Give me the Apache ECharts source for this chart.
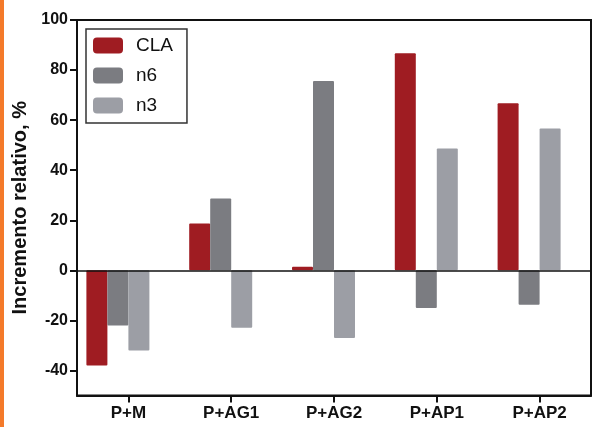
<!DOCTYPE html>
<html>
<head>
<meta charset="utf-8">
<script src="https://cdn.jsdelivr.net/npm/echarts@6/dist/echarts.min.js"></script>
<style>
html,body{margin:0;padding:0;background:#fff;}
#c{width:594px;height:427px;}
</style>
</head>
<body>
<div id="c"></div>
<script>
var categories = ['P+M', 'P+AG1', 'P+AG2', 'P+AP1', 'P+AP2'];
var seriesNames = ['CLA', 'n6', 'n3'];
var claValues = [-38, 18.7, 1.4, 86.7, 66.7];
var n6Values = [-22, 28.7, 75.6, -15, -13.7];
var n3Values = [-32, -22.9, -27, 48.7, 56.7];
var yTicks = [-40, -20, 0, 20, 40, 60, 80, 100];

var colors = ['#9F1C22', '#7B7C81', '#9C9EA5'];
var font = 'Liberation Sans, Arial, sans-serif';

var chart = echarts.init(document.getElementById('c'), null, {renderer: 'canvas'});
function bar(name, data, color) {
  return {
    type: 'bar', name: name, data: data, barWidth: 21, barGap: '0%',
    itemStyle: {color: color, borderRadius: 1}, animation: false
  };
}
var s1 = bar(seriesNames[0], claValues, colors[0]);
s1.markLine = {
  silent: true, symbol: ['none', 'none'], label: {show: false},
  lineStyle: {color: '#111', width: 1.5, type: 'solid'},
  data: [{yAxis: 0}]
};
chart.setOption({
  animation: false,
  backgroundColor: '#fff',
  graphic: [{
    type: 'rect', left: 0, top: 0, shape: {x: 0, y: 0, width: 4, height: 427},
    style: {fill: '#F47A2A'}
  }],
  grid: {left: 77, right: 3, top: 20, bottom: 31.5, show: true, borderColor: '#111', borderWidth: 2, backgroundColor: 'transparent', containLabel: false},
  legend: {
    data: seriesNames, orient: 'vertical', left: 86, top: 29,
    itemWidth: 30, itemHeight: 16, itemGap: 11,
    padding: [7, 14, 8, 7], borderRadius: 0,
    borderColor: '#333', borderWidth: 1.5,
    itemStyle: {borderRadius: 2},
    textStyle: {fontFamily: font, fontSize: 19, color: '#111', padding: [0, 0, 0, 8]}
  },
  xAxis: {
    type: 'category', data: categories,
    axisLine: {onZero: false, lineStyle: {color: '#111', width: 2}},
    axisTick: {show: true, inside: false, alignWithLabel: true, length: 7, lineStyle: {color: '#111', width: 2}},
    axisLabel: {inside: false, fontFamily: font, fontWeight: 'bold', fontSize: 17, color: '#111', margin: 9}
  },
  yAxis: {
    type: 'value', min: -50, max: 100, interval: 10,
    name: 'Incremento relativo, %', nameLocation: 'middle', nameGap: 44,
    nameTextStyle: {fontFamily: font, fontWeight: 'bold', fontSize: 20, color: '#111'},
    axisLine: {show: true, lineStyle: {color: '#111', width: 2}},
    axisTick: {show: true, inside: false, length: 7, lineStyle: {color: '#111', width: 2}, customValues: yTicks},
    axisLabel: {inside: false, fontFamily: font, fontWeight: 'bold', fontSize: 16, color: '#111', margin: 9, customValues: yTicks},
    splitLine: {show: false}
  },
  series: [
    s1,
    bar(seriesNames[1], n6Values, colors[1]),
    bar(seriesNames[2], n3Values, colors[2]),
    {type: 'bar', name: '_pad', data: categories.map(function(){return null;}), barWidth: 21, barGap: '0%'}
  ]
});
</script>
</body>
</html>
